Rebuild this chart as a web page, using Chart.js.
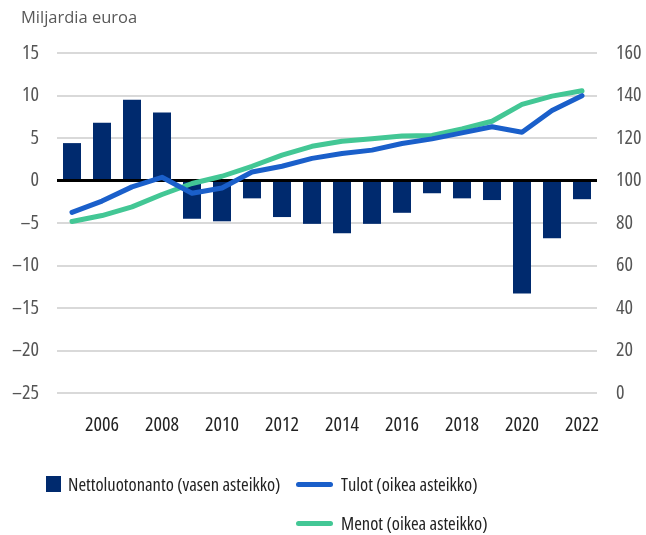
<!DOCTYPE html>
<html><head><meta charset="utf-8">
<script src="https://cdn.jsdelivr.net/npm/chart.js@4"></script>
<style>
html,body{margin:0;padding:0;background:#fff;}
#wrap{position:relative;width:646px;height:535px;font-family:'Open Sans',sans-serif;font-stretch:75%;}
#title{position:absolute;left:21px;top:5px;font-size:16.5px;font-stretch:100%;color:#595959;line-height:24px;}
.lg{position:absolute;font-size:18.5px;color:#222;line-height:24px;white-space:nowrap;}
.sw{position:absolute;}
</style></head>
<body>
<div id="wrap">
<canvas id="c" width="646" height="535"></canvas>
<div id="title">Miljardia euroa</div>
<div id="legend"></div>
</div>
<script>
const years = [2005,2006,2007,2008,2009,2010,2011,2012,2013,2014,2015,2016,2017,2018,2019,2020,2021,2022];
const nettoluotonanto = [4.4,6.8,9.5,8.0,-4.5,-4.8,-2.1,-4.3,-5.1,-6.2,-5.1,-3.8,-1.5,-2.1,-2.3,-13.3,-6.8,-2.2];
const tulot = [85,90.3,97,101.5,94,96.5,104,106.7,110.4,112.7,114.3,117.4,119.6,122.4,125.3,122.7,132.9,139.9];
const menot = [80.7,83.5,87.6,93.4,98.6,102,106.7,111.9,116.1,118.5,119.6,120.9,121.2,124.3,127.9,135.8,139.7,142.2];
const leftTicks = [15,10,5,0,-5,-10,-15,-20,-25];
const rightTicks = [160,140,120,100,80,60,40,20,0];
const seriesNames = ['Nettoluotonanto (vasen asteikko)','Tulot (oikea asteikko)','Menot (oikea asteikko)'];

const FONT = "'Open Sans', sans-serif";
const TF = {family:FONT, size:20, weight:'normal condensed'};
const C_BAR = '#002a6e', C_TUL = '#1a5fca', C_MEN = '#43c795';

const chart = new Chart(document.getElementById('c'), {
  data: {
    labels: years.map(String),
    datasets: [
      {type:'bar', label:seriesNames[0], data:nettoluotonanto, backgroundColor:C_BAR, yAxisID:'y', order:2, barPercentage:0.6, categoryPercentage:1},
      {type:'line', label:seriesNames[1], data:tulot, borderColor:C_TUL, backgroundColor:C_TUL, borderWidth:5, pointRadius:0, tension:0, borderCapStyle:'round', borderJoinStyle:'round', yAxisID:'y1', order:0},
      {type:'line', label:seriesNames[2], data:menot, borderColor:C_MEN, backgroundColor:C_MEN, borderWidth:5, pointRadius:0, tension:0, borderCapStyle:'round', borderJoinStyle:'round', yAxisID:'y1', order:1}
    ]
  },
  options: {
    responsive:false, animation:false,
    layout:{padding:{top:53, bottom:92, left:0, right:0}},
    plugins:{legend:{display:false}, tooltip:{enabled:false}},
    scales:{
      x:{
        grid:{display:false, drawTicks:false}, border:{display:false},
        ticks:{autoSkip:false, maxRotation:0, padding:20, color:'#222', font:TF,
          callback:(v,i)=> years[i]%2===0 ? String(years[i]) : ''},
        afterFit:s=>{s.height=50;}
      },
      y:{
        position:'left', min:-25, max:15,
        afterBuildTicks:s=>{s.ticks = leftTicks.map(v=>({value:v}));},
        grid:{drawTicks:false, color:c=> c.tick && c.tick.value===0 ? '#000' : '#d9d9d9', lineWidth:c=> c.tick && c.tick.value===0 ? 3 : 2},
        border:{display:false},
        ticks:{padding:18, color:'#555', font:TF, callback:v=> v<0 ? '\u2013'+Math.abs(v) : String(v)},
        afterFit:s=>{s.width=57;}
      },
      y1:{
        position:'right', min:0, max:160,
        afterBuildTicks:s=>{s.ticks = rightTicks.map(v=>({value:v}));},
        grid:{display:false, drawTicks:false}, border:{display:false},
        ticks:{padding:19, color:'#555', font:TF},
        afterFit:s=>{s.width=49;}
      }
    }
  }
});

// HTML legend built from chart datasets
const lg = document.getElementById('legend');
const pos = [
  {sx:46, sy:476, sw:15, sh:16, tx:68, ty:472, square:true},
  {sx:296, sy:482, sw:37, sh:5, tx:341, ty:472},
  {sx:296, sy:521, sw:37, sh:5, tx:341, ty:511}
];
chart.data.datasets.forEach((ds,i)=>{
  const p = pos[i];
  const sw = document.createElement('div');
  sw.className='sw';
  sw.style.cssText = `left:${p.sx}px;top:${p.sy}px;width:${p.sw}px;height:${p.sh}px;background:${ds.type==='bar'?ds.backgroundColor:ds.borderColor};border-radius:${p.square?0:3}px;`;
  lg.appendChild(sw);
  const t = document.createElement('div');
  t.className='lg';
  t.style.left = p.tx+'px'; t.style.top = p.ty+'px';
  t.textContent = ds.label;
  lg.appendChild(t);
});
</script>
</body></html>
